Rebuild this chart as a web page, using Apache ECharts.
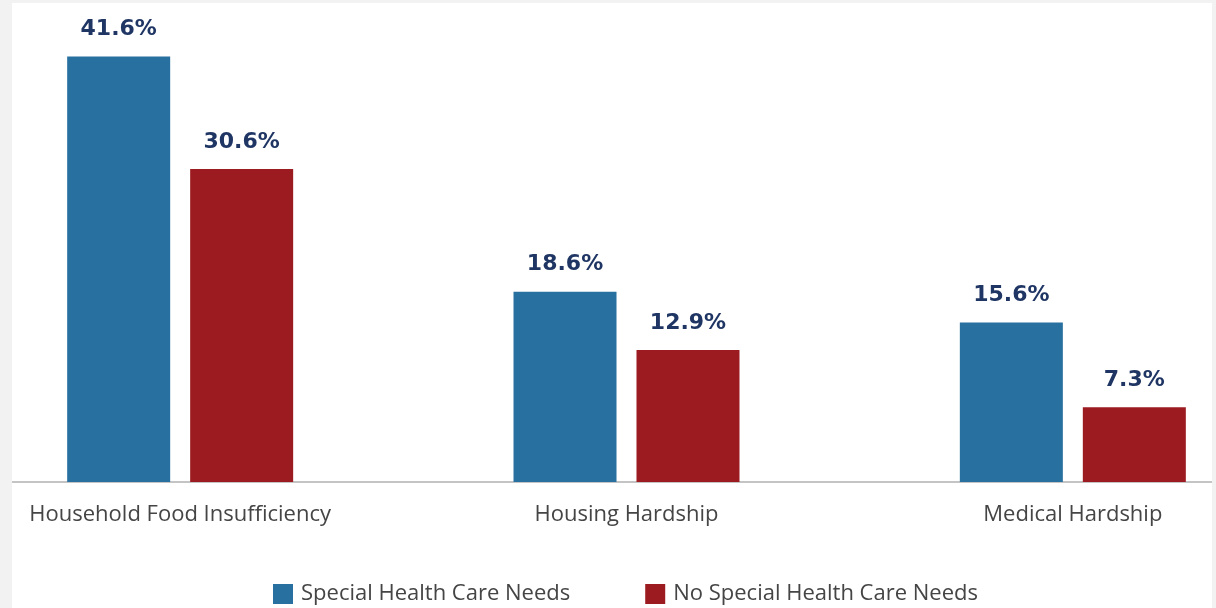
<!DOCTYPE html>
<html>
<head>
<meta charset="utf-8">
<script src="https://cdn.jsdelivr.net/npm/echarts@6/dist/echarts.min.js"></script>
<style>
  html, body { margin: 0; padding: 0; background: #f2f2f2; width: 1216px; height: 608px; overflow: hidden; }
  #chart { position: absolute; left: 12px; top: 3px; width: 1200px; height: 605px; background: #ffffff; }
</style>
</head>
<body>
<div id="chart"></div>
<script>
// Share of households experiencing each hardship, by child health care needs
const categories = ['Household Food Insufficiency', 'Housing Hardship', 'Medical Hardship'];
const specialNeeds = [41.6, 18.6, 15.6];
const noSpecialNeeds = [30.6, 12.9, 7.3];
const seriesNames = ['Special Health Care Needs', 'No Special Health Care Needs'];

const BLUE = '#27709f';
const RED = '#9c1b21';
const LABEL_NAVY = '#1f3563';
const TEXT_GRAY = '#454545';
const FONT = '"Open Sans", "Noto Sans", sans-serif';

const valueLabel = {
  show: true,
  position: 'top',
  distance: 16,
  formatter: p => p.value.toFixed(1) + '%',
  color: LABEL_NAVY,
  fontFamily: '"DejaVu Sans", sans-serif',
  fontWeight: 'bold',
  fontSize: 22
};

const chart = echarts.init(document.getElementById('chart'), null, { renderer: 'canvas' });
chart.setOption({
  animation: false,
  backgroundColor: '#ffffff',
  grid: { left: -55, width: 1339, top: 29, bottom: 126, outerBoundsMode: 'none', containLabel: false },
  legend: {
    left: 256,
    top: 575,
    itemWidth: 20,
    itemHeight: 20,
    itemGap: 75,
    icon: 'rect',
    textStyle: { color: TEXT_GRAY, fontFamily: FONT, fontSize: 22, padding: [0, 0, 0, 3] },
    data: seriesNames
  },
  xAxis: {
    type: 'category',
    data: categories,
    axisLine: { show: true, lineStyle: { color: '#c4c4c4', width: 2 } },
    axisTick: { show: false },
    axisLabel: { color: TEXT_GRAY, fontFamily: FONT, fontSize: 22, margin: 22 }
  },
  yAxis: {
    type: 'value',
    min: 0,
    max: 44,
    show: false,
    splitLine: { show: false }
  },
  series: [
    {
      name: seriesNames[0],
      type: 'bar',
      data: specialNeeds,
      barWidth: 103,
      barGap: '19.4%',
      itemStyle: { color: BLUE },
      label: valueLabel
    },
    {
      name: seriesNames[1],
      type: 'bar',
      data: noSpecialNeeds,
      barWidth: 103,
      itemStyle: { color: RED },
      label: valueLabel
    }
  ]
});
</script>
</body>
</html>
